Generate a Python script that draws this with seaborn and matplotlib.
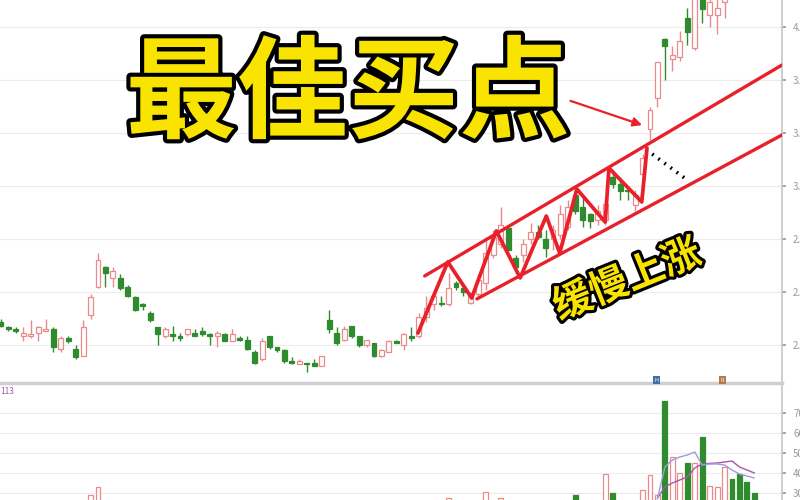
import matplotlib
matplotlib.use("Agg")
import pandas as pd
import matplotlib.pyplot as plt
import matplotlib.patheffects as pe
import seaborn as sns

# daily candles (price)
opens = [2.33, 2.30, 2.29, 2.25, 2.25, 2.27, 2.28, 2.29, 2.18, 2.24,
         2.18, 2.14, 2.37, 2.53, 2.64, 2.58, 2.58, 2.53, 2.47, 2.43,
         2.38, 2.30, 2.25, 2.26, 2.25, 2.26, 2.27, 2.28, 2.26, 2.25,
         2.26, 2.22, 2.24, 2.23, 2.16, 2.12, 2.25, 2.19, 2.17, 2.11,
         2.09, 2.10, 2.10, 2.08, 2.34, 2.27, 2.23, 2.31, 2.25, 2.20,
         2.21, 2.14, 2.16, 2.22, 2.20, 2.25, 2.25, 2.36, 2.43, 2.44,
         2.43, 2.55, 2.52, 2.44, 2.49, 2.55, 2.71, 2.77, 2.86, 2.69,
         2.71, 2.80, 2.84, 2.80, 2.80, 2.82, 2.87, 3.05, 2.98, 2.94,
         2.91, 2.91, 3.15, 3.11, 3.08, 2.99, 3.17, 3.42, 3.60, 3.93,
         3.82, 3.83, 4.05, 3.88, 4.18, 4.07, 4.07, 4.14, 4.32, 4.30,
         4.28, 4.26]
closes = [2.31, 2.29, 2.28, 2.27, 2.26, 2.30, 2.29, 2.19, 2.24, 2.22,
          2.13, 2.30, 2.47, 2.68, 2.61, 2.62, 2.52, 2.48, 2.40, 2.42,
          2.34, 2.26, 2.29, 2.25, 2.24, 2.29, 2.25, 2.26, 2.25, 2.27,
          2.22, 2.26, 2.23, 2.18, 2.10, 2.22, 2.19, 2.17, 2.11, 2.10,
          2.11, 2.09, 2.08, 2.14, 2.29, 2.21, 2.29, 2.25, 2.20, 2.23,
          2.14, 2.17, 2.22, 2.21, 2.26, 2.24, 2.36, 2.41, 2.48, 2.43,
          2.52, 2.53, 2.50, 2.48, 2.57, 2.72, 2.81, 2.88, 2.74, 2.64,
          2.77, 2.84, 2.81, 2.75, 2.85, 2.94, 2.98, 2.96, 2.91, 2.90,
          2.96, 3.00, 3.11, 3.07, 3.07, 3.05, 3.26, 3.53, 3.80, 3.89,
          3.84, 3.92, 3.97, 4.21, 4.10, 4.14, 4.11, 4.18, 4.25, 4.24,
          4.22, 4.21]
highs = [2.35, 2.31, 2.30, 2.30, 2.34, 2.31, 2.35, 2.30, 2.25, 2.25,
         2.20, 2.34, 2.49, 2.72, 2.65, 2.64, 2.60, 2.54, 2.48, 2.44,
         2.39, 2.30, 2.30, 2.31, 2.27, 2.29, 2.29, 2.30, 2.27, 2.28,
         2.27, 2.29, 2.25, 2.25, 2.17, 2.24, 2.25, 2.19, 2.18, 2.13,
         2.12, 2.10, 2.12, 2.14, 2.40, 2.30, 2.31, 2.31, 2.25, 2.23,
         2.21, 2.18, 2.23, 2.23, 2.27, 2.30, 2.38, 2.48, 2.51, 2.48,
         2.61, 2.56, 2.53, 2.50, 2.60, 2.81, 2.85, 2.98, 2.88, 2.71,
         2.80, 2.89, 2.88, 2.85, 2.88, 2.99, 3.02, 3.09, 3.04, 2.95,
         2.99, 3.03, 3.19, 3.13, 3.10, 3.08, 3.28, 3.55, 3.80, 3.94,
         3.89, 3.98, 4.11, 4.24, 4.21, 4.18, 4.17, 4.21, 4.35, 4.33,
         4.31, 4.28]
lows = [2.30, 2.28, 2.27, 2.22, 2.24, 2.22, 2.28, 2.16, 2.16, 2.21,
        2.12, 2.14, 2.35, 2.52, 2.53, 2.53, 2.51, 2.47, 2.39, 2.40,
        2.33, 2.20, 2.24, 2.22, 2.22, 2.25, 2.25, 2.25, 2.20, 2.19,
        2.22, 2.22, 2.22, 2.17, 2.09, 2.11, 2.18, 2.16, 2.10, 2.09,
        2.09, 2.05, 2.08, 2.08, 2.27, 2.20, 2.22, 2.24, 2.19, 2.19,
        2.13, 2.13, 2.16, 2.21, 2.17, 2.22, 2.24, 2.33, 2.40, 2.42,
        2.42, 2.51, 2.48, 2.43, 2.46, 2.51, 2.69, 2.75, 2.73, 2.61,
        2.67, 2.77, 2.80, 2.70, 2.74, 2.80, 2.85, 2.94, 2.87, 2.86,
        2.88, 2.88, 3.09, 3.02, 3.02, 2.96, 3.15, 3.36, 3.55, 3.70,
        3.75, 3.81, 3.90, 3.87, 4.02, 4.00, 3.96, 4.05, 4.22, 4.20,
        4.19, 4.18]
volumes = [150, 120, 100, 130, 140, 120, 110, 180, 160, 110,
           170, 240, 290, 330, 220, 180, 170, 160, 150, 120,
           130, 160, 140, 110, 100, 120, 110, 100, 120, 110,
           100, 120, 90, 130, 170, 200, 140, 110, 150, 100,
           90, 100, 110, 150, 230, 180, 140, 150, 120, 160,
           150, 130, 140, 120, 160, 120, 150, 250, 220, 200,
           275, 200, 180, 190, 240, 305, 250, 275, 240, 200,
           210, 190, 180, 220, 200, 230, 250, 290, 230, 200,
           220, 395, 300, 240, 220, 250, 315, 390, 290, 760,
           480, 400, 450, 450, 580, 335, 330, 430, 370, 395,
           355, 300]

# volume average lines (last days only)
ma_days = [88, 89, 90, 91, 92, 93, 94, 95, 96, 97, 98, 99, 100, 101]
ma_fast = [270, 430, 465, 480, 490, 505, 440, 445, 445, 440, 415, 395, 385, 375]
ma_slow = [275, 330, 350, 365, 380, 425, 445, 448, 450, 455, 460, 430, 415, 400]

# hand-drawn annotation: zigzag, channel, dots, arrow
zig_x = [55.9, 59.9, 63.1, 66.4, 69.6, 73.1, 74.9, 77.2, 81.0, 81.5, 85.9, 86.6]
zig_y = [2.268, 2.670, 2.466, 2.846, 2.580, 2.930, 2.721, 3.083, 2.896, 3.202, 3.010, 3.315]
upper_x = [56.8, 104.7]
upper_y = [2.591, 3.785]
lower_x = [63.8, 104.7]
lower_y = [2.461, 3.389]
dots_x = [87.3, 92.0]
dots_y = [3.281, 3.134]
arrow_from = (76.0, 3.587)
arrow_to = (86.3, 3.440)

price_ticks = [2.2, 2.5, 2.8, 3.1, 3.4, 3.7, 4.0]
vol_ticks = [300, 400, 500, 600, 700]

UP = "#ea8a8a"
DOWN = "#2e8b2e"
RED = "#e8202a"
YELLOW = "#f8e400"

sns.set_theme(style="white")
plt.rcParams['font.family'] = ['Noto Sans CJK SC', 'DejaVu Sans']

df = pd.DataFrame({"open": opens, "close": closes, "high": highs,
                   "low": lows, "volume": volumes})
df["day"] = range(len(df))
df["up"] = df["close"] > df["open"]

fig = plt.figure(figsize=(8, 5), dpi=100)
ax = fig.add_axes([0, 1 - 383 / 500, 782 / 800, 383 / 500])
axv = fig.add_axes([0, 0, 782 / 800, 114 / 500])

# candles
for up, g in df.groupby("up"):
    col = UP if up else DOWN
    ax.vlines(g["day"], g["low"], g["high"], color=col, lw=1, zorder=2)
    bottom = g[["open", "close"]].min(axis=1)
    height = (g["close"] - g["open"]).abs().clip(lower=0.008)
    ax.bar(g["day"], height, bottom=bottom, width=0.66,
           facecolor="white" if up else DOWN,
           edgecolor=col, lw=0.9, zorder=3)
    axv.bar(g["day"], g["volume"], width=0.66,
            facecolor="white" if up else DOWN, edgecolor=col, lw=0.9)

ax.set_xlim(-0.134, 104.7)
ax.set_ylim(1.985, 4.153)
axv.set_xlim(-0.134, 104.7)
axv.set_ylim(265, 835)

# annotations
sns.lineplot(x=zig_x, y=zig_y, sort=False, estimator=None, color=RED,
             lw=2.7, ax=ax, zorder=5)
sns.lineplot(x=upper_x, y=upper_y, color=RED, lw=2.4, ax=ax, zorder=5)
sns.lineplot(x=lower_x, y=lower_y, color=RED, lw=2.4, ax=ax, zorder=5)
ax.plot(dots_x, dots_y, color="black", lw=2.6, linestyle=(0, (0.5, 1.6)),
        zorder=5)
ax.annotate("", xy=arrow_to, xytext=arrow_from, zorder=6,
            arrowprops=dict(arrowstyle="-|>", color=RED, lw=1.6,
                            mutation_scale=13))

sns.lineplot(x=ma_days, y=ma_slow, color="#a855a8", lw=1, ax=axv)
sns.lineplot(x=ma_days, y=ma_fast, color="#9c9ce0", lw=1, ax=axv)

outline = [pe.withStroke(linewidth=6, foreground="black")]
fig.text(0.435, 0.806, "最佳买点", fontsize=80, fontweight="bold",
         color=YELLOW, ha="center", va="center", path_effects=outline)
fig.text(0.784, 0.44, "缓慢上涨", fontsize=28, fontweight="bold",
         color=YELLOW, ha="center", va="center", rotation=22,
         path_effects=[pe.withStroke(linewidth=4.5, foreground="black")])

# axes styling
for a, ticks in ((ax, price_ticks), (axv, vol_ticks)):
    a.yaxis.tick_right()
    a.set_yticks(ticks)
    a.set_xticks([])
    a.tick_params(axis="y", length=3, pad=5, labelsize=7,
                  colors="#999999", direction="out")
    a.grid(axis="y", color="#ececec", lw=0.8)
    a.set_axisbelow(True)
    for s in ("left", "top"):
        a.spines[s].set_visible(False)
    a.spines["right"].set_color("#c8c8c8")
ax.set_yticklabels([f"{t:.2f}" for t in price_ticks])
ax.spines["bottom"].set_color("#cfcfcf")
ax.spines["bottom"].set_linewidth(2.5)
axv.spines["bottom"].set_visible(False)

fig.text(0.0, 0.212, "113", fontsize=6, color="#a855a8", ha="left")
fig.text(0.821, 0.237, "H", fontsize=4, color="white", ha="center",
         bbox=dict(boxstyle="square,pad=0.25", fc="#3f6fa8", ec="none"))
fig.text(0.903, 0.237, "R", fontsize=4, color="white", ha="center",
         bbox=dict(boxstyle="square,pad=0.25", fc="#b07a4a", ec="none"))

fig.savefig("out.png", dpi=100)
